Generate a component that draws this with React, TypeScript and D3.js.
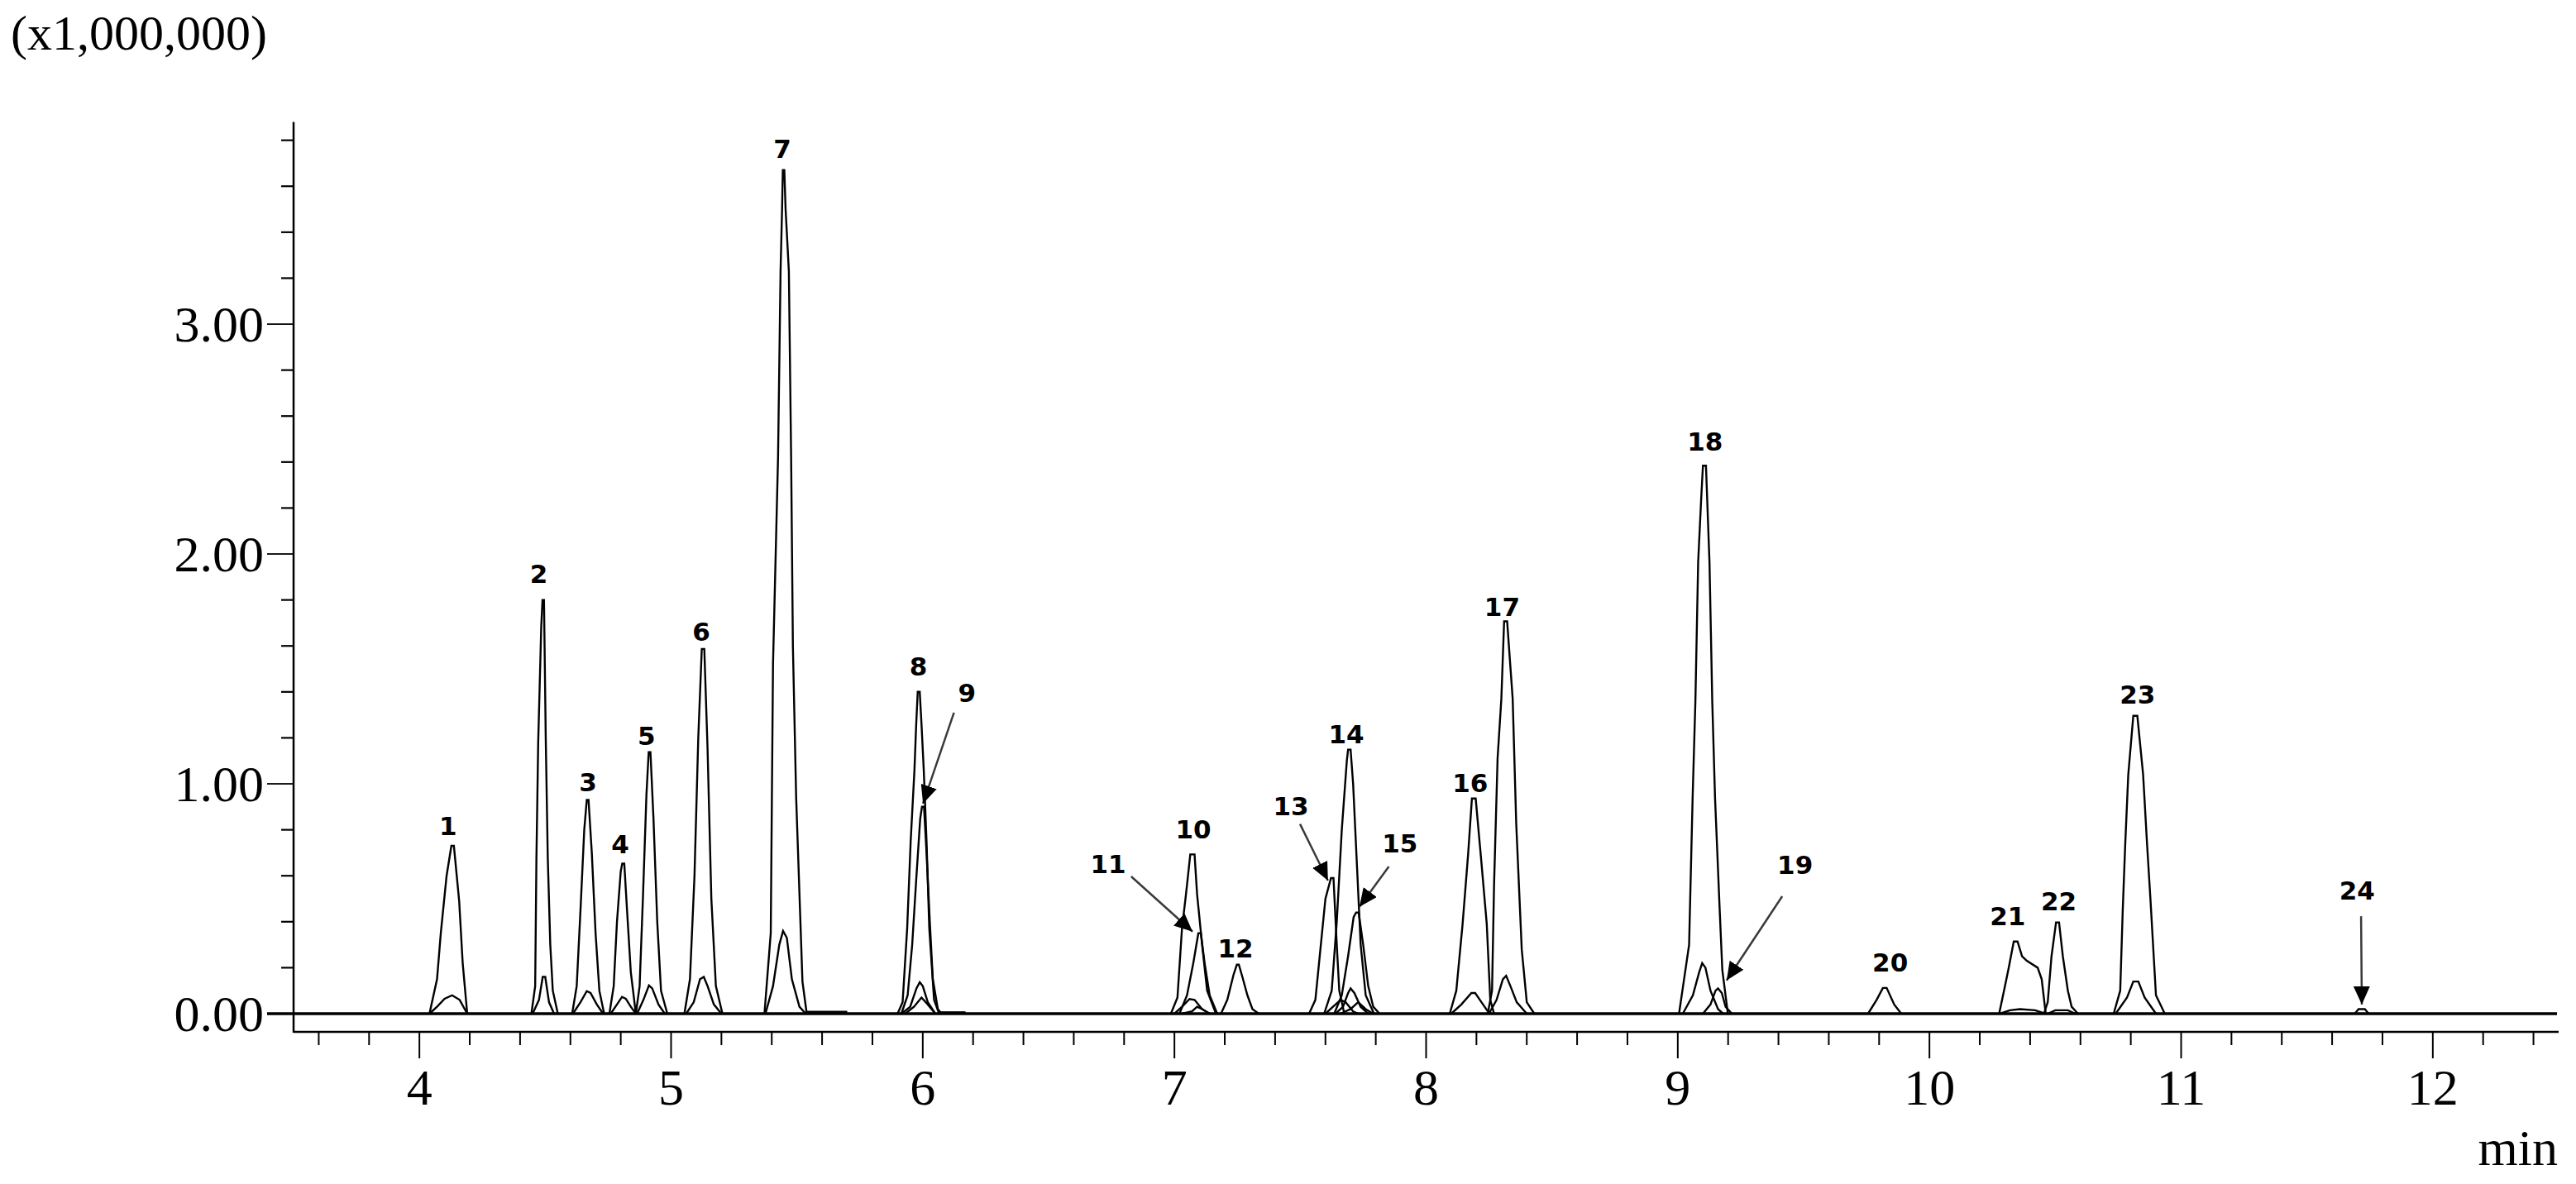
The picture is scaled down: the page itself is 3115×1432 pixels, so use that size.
import React, { useEffect } from 'react';
import * as d3 from 'd3';

type Pt = [number, number];

const WIDTH = 3115;
const HEIGHT = 1432;

// axis values
const X_DOMAIN: [number, number] = [3.5, 12.5];
const Y_DOMAIN: [number, number] = [0, 3.88];
const X_MAJOR_TICKS = [4, 5, 6, 7, 8, 9, 10, 11, 12];
const Y_MAJOR_TICKS = [0, 1, 2, 3];
const Y_TICK_LABELS = ['0.00', '1.00', '2.00', '3.00'];
const Y_UNIT_LABEL = '(x1,000,000)';
const X_UNIT_LABEL = 'min';

// main (quantifier) traces, one per compound: [time (min), intensity (x1,000,000)]
const MAIN_TRACES: Pt[][] = [
  [[4.04,0],[4.07,0.15],[4.085,0.35],[4.108,0.6],[4.127,0.73],[4.137,0.73],[4.158,0.49],[4.172,0.22],[4.19,0]],
  [[4.445,0],[4.46,0.12],[4.465,0.68],[4.472,1.18],[4.484,1.68],[4.489,1.8],[4.495,1.8],[4.502,1.2],[4.51,0.68],[4.52,0.3],[4.53,0.1],[4.55,0]],
  [[4.607,0],[4.625,0.12],[4.64,0.45],[4.655,0.8],[4.665,0.93],[4.672,0.93],[4.685,0.7],[4.7,0.35],[4.715,0.1],[4.734,0]],
  [[4.755,0],[4.772,0.12],[4.785,0.4],[4.8,0.62],[4.806,0.653],[4.814,0.653],[4.825,0.45],[4.84,0.18],[4.86,0]],
  [[4.86,0],[4.875,0.12],[4.888,0.5],[4.902,0.95],[4.911,1.138],[4.918,1.138],[4.93,0.85],[4.945,0.4],[4.96,0.1],[4.985,0]],
  [[5.053,0],[5.075,0.15],[5.093,0.6],[5.108,1.2],[5.122,1.587],[5.132,1.587],[5.145,1.15],[5.16,0.5],[5.178,0.12],[5.204,0]],
  [[5.371,0],[5.396,0.35],[5.405,1.52],[5.425,2.42],[5.435,3.23],[5.441,3.5],[5.444,3.67],[5.45,3.67],[5.455,3.5],[5.468,3.23],[5.477,2.42],[5.484,1.6],[5.497,0.94],[5.522,0.14],[5.539,0]],
  [[5.9,0],[5.92,0.05],[5.938,0.37],[5.952,0.75],[5.967,1.06],[5.974,1.26],[5.98,1.4],[5.988,1.4],[5.995,1.26],[6.004,1.06],[6.015,0.75],[6.026,0.37],[6.045,0.06],[6.065,0]],
  [[5.915,0],[5.94,0.08],[5.958,0.3],[5.975,0.6],[5.99,0.85],[5.997,0.9],[6.005,0.9],[6.015,0.7],[6.028,0.4],[6.04,0.15],[6.06,0.02],[6.075,0]],
  [[6.986,0],[7.012,0.07],[7.03,0.37],[7.046,0.52],[7.063,0.693],[7.08,0.693],[7.09,0.52],[7.11,0.3],[7.13,0.1],[7.165,0]],
  [[7.02,0],[7.05,0.08],[7.075,0.22],[7.095,0.35],[7.105,0.35],[7.12,0.22],[7.14,0.08],[7.17,0]],
  [[7.185,0],[7.21,0.06],[7.235,0.17],[7.248,0.213],[7.256,0.213],[7.27,0.16],[7.29,0.08],[7.31,0.02],[7.335,0]],
  [[7.535,0],[7.56,0.06],[7.58,0.28],[7.6,0.5],[7.622,0.59],[7.632,0.59],[7.645,0.3],[7.655,0.1],[7.675,0]],
  [[7.595,0],[7.625,0.1],[7.645,0.4],[7.665,0.8],[7.685,1.1],[7.69,1.149],[7.7,1.149],[7.71,1.0],[7.725,0.65],[7.74,0.3],[7.76,0.08],[7.793,0]],
  [[7.635,0],[7.665,0.08],[7.69,0.25],[7.712,0.42],[7.722,0.44],[7.732,0.44],[7.75,0.3],[7.77,0.12],[7.79,0.03],[7.815,0]],
  [[8.094,0],[8.12,0.1],[8.145,0.39],[8.167,0.695],[8.182,0.936],[8.197,0.936],[8.218,0.68],[8.241,0.39],[8.255,0.06],[8.27,0]],
  [[8.245,0],[8.262,0.1],[8.27,0.56],[8.284,1.11],[8.299,1.37],[8.31,1.707],[8.322,1.707],[8.344,1.37],[8.358,0.83],[8.38,0.28],[8.4,0.05],[8.43,0]],
  [[9.005,0],[9.045,0.3],[9.059,0.94],[9.07,1.36],[9.081,1.965],[9.093,2.24],[9.1,2.384],[9.112,2.384],[9.126,1.965],[9.137,1.36],[9.148,0.94],[9.167,0.44],[9.177,0.19],[9.199,0]],
  [[9.1,0],[9.13,0.04],[9.15,0.1],[9.16,0.11],[9.175,0.09],[9.19,0.03],[9.215,0]],
  [[9.756,0],[9.79,0.06],[9.815,0.112],[9.83,0.112],[9.86,0.04],[9.888,0]],
  [[10.277,0],[10.3,0.12],[10.315,0.2],[10.335,0.314],[10.35,0.314],[10.368,0.25],[10.387,0.23],[10.43,0.2],[10.446,0.15],[10.462,0]],
  [[10.455,0],[10.47,0.05],[10.485,0.25],[10.503,0.397],[10.515,0.397],[10.53,0.25],[10.55,0.1],[10.565,0.03],[10.59,0]],
  [[10.732,0],[10.758,0.1],[10.768,0.45],[10.778,0.74],[10.79,1.04],[10.81,1.296],[10.826,1.296],[10.849,1.04],[10.864,0.75],[10.878,0.5],[10.9,0.08],[10.935,0]],
  [[11.69,0],[11.705,0.02],[11.73,0.02],[11.745,0]],
];

// small qualifier-ion traces
const QUALIFIER_TRACES: Pt[][] = [
  [[4.04,0],[4.07,0.03],[4.1,0.065],[4.13,0.08],[4.16,0.06],[4.19,0]],
  [[4.45,0],[4.475,0.06],[4.49,0.16],[4.5,0.16],[4.515,0.05],[4.535,0]],
  [[4.61,0],[4.64,0.05],[4.665,0.098],[4.68,0.09],[4.705,0.04],[4.73,0]],
  [[4.76,0],[4.785,0.04],[4.805,0.073],[4.82,0.065],[4.84,0.03],[4.86,0]],
  [[4.865,0],[4.89,0.06],[4.912,0.123],[4.925,0.11],[4.95,0.04],[4.975,0]],
  [[5.06,0],[5.09,0.05],[5.115,0.15],[5.13,0.16],[5.145,0.12],[5.17,0.04],[5.2,0]],
  [[5.375,0],[5.405,0.12],[5.43,0.3],[5.445,0.36],[5.46,0.33],[5.48,0.15],[5.51,0.03],[5.535,0]],
  [[5.54,0.008],[5.7,0.008]],
  [[5.915,0],[5.95,0.03],[5.975,0.11],[5.988,0.137],[6.0,0.12],[6.02,0.05],[6.05,0]],
  [[5.93,0],[5.965,0.03],[5.995,0.07],[6.02,0.04],[6.05,0]],
  [[6.07,0.006],[6.17,0.006]],
  [[7.0,0],[7.03,0.03],[7.06,0.064],[7.08,0.06],[7.11,0.02],[7.14,0]],
  [[7.03,0],[7.07,0.01],[7.09,0.03],[7.11,0.02],[7.14,0]],
  [[7.6,0],[7.63,0.03],[7.66,0.06],[7.68,0.05],[7.71,0.01],[7.73,0]],
  [[7.64,0],[7.67,0.03],[7.69,0.09],[7.7,0.11],[7.715,0.09],[7.74,0.03],[7.77,0]],
  [[7.66,0],[7.7,0.02],[7.73,0.05],[7.76,0.02],[7.79,0]],
  [[8.1,0],[8.14,0.04],[8.18,0.09],[8.195,0.09],[8.22,0.05],[8.245,0.01],[8.26,0]],
  [[8.25,0],[8.28,0.06],[8.305,0.15],[8.318,0.165],[8.335,0.12],[8.36,0.05],[8.4,0]],
  [[9.02,0],[9.06,0.08],[9.085,0.18],[9.097,0.22],[9.11,0.2],[9.13,0.1],[9.16,0.02],[9.18,0]],
  [[10.28,0],[10.32,0.015],[10.36,0.02],[10.42,0.015],[10.46,0]],
  [[10.47,0],[10.5,0.015],[10.55,0.015],[10.58,0]],
  [[10.74,0],[10.785,0.07],[10.81,0.14],[10.83,0.14],[10.855,0.07],[10.9,0]],
];

// peak number labels: [text, time, intensity] (text centre)
const PEAK_LABELS: [string, number, number][] = [
  ['1', 4.114, 0.817], ['2', 4.474, 1.915], ['3', 4.670, 1.006], ['4', 4.798, 0.736],
  ['5', 4.902, 1.208], ['6', 5.120, 1.663], ['7', 5.442, 3.764], ['8', 5.983, 1.511],
  ['9', 6.176, 1.397], ['10', 7.075, 0.802], ['11', 6.737, 0.651], ['12', 7.243, 0.285],
  ['13', 7.463, 0.903], ['14', 7.683, 1.216], ['15', 7.896, 0.741], ['16', 8.175, 1.005],
  ['17', 8.302, 1.770], ['18', 9.108, 2.489], ['19', 9.466, 0.647], ['20', 9.844, 0.223],
  ['21', 10.311, 0.424], ['22', 10.514, 0.489], ['23', 10.827, 1.388], ['24', 11.699, 0.537],
];

// annotation arrows: [fromTime, fromIntensity, tipTime, tipIntensity]
const ARROWS: [number, number, number, number][] = [
  [6.124, 1.31, 6.001, 0.914],
  [6.828, 0.597, 7.072, 0.357],
  [7.499, 0.825, 7.61, 0.579],
  [7.852, 0.64, 7.735, 0.465],
  [9.415, 0.511, 9.194, 0.145],
  [11.715, 0.424, 11.718, 0.04],
];

const PLOT = { left: 355, right: 3094, zeroY: 1226, topY: 147.4, xAxisY: 1248 };

export default function App() {
  useEffect(() => {
    document.body.style.margin = '0';
    document.body.style.overflow = 'hidden';
  }, []);

  const x = d3.scaleLinear().domain(X_DOMAIN).range([PLOT.left, PLOT.right]);
  const y = d3.scaleLinear().domain(Y_DOMAIN).range([PLOT.zeroY, PLOT.topY]);
  const line = d3.line<Pt>().x(d => x(d[0])).y(d => y(d[1]));

  const xMinor = d3.range(3.6, 12.45, 0.2).filter(v => Math.abs(v - Math.round(v)) > 1e-6);
  const yMinor = d3.range(0.2, 3.85, 0.2).filter(v => Math.abs(v - Math.round(v)) > 1e-6);

  const serif = "'Liberation Serif', 'Times New Roman', serif";
  const sans = "'DejaVu Sans', Verdana, sans-serif";

  return (
    <svg width={WIDTH} height={HEIGHT} viewBox={`0 0 ${WIDTH} ${HEIGHT}`}
      style={{ position: 'absolute', left: 0, top: 0, display: 'block', background: '#fff' }}>
      <defs>
        <marker id="ah" markerUnits="userSpaceOnUse" markerWidth={22} markerHeight={20}
          refX={22} refY={10} orient="auto">
          <path d="M0,0 L22,10 L0,20 Z" fill="#000" />
        </marker>
      </defs>
      <rect x={0} y={0} width={WIDTH} height={HEIGHT} fill="#fff" />

      {/* unit label */}
      <text x={13} y={60} fontFamily={serif} fontSize={60} fill="#000">{Y_UNIT_LABEL}</text>

      {/* y axis */}
      <line x1={PLOT.left} x2={PLOT.left} y1={PLOT.topY} y2={PLOT.xAxisY + 1} stroke="#000" strokeWidth={2.5} />
      {yMinor.map(v => (
        <line key={'ym' + v} x1={PLOT.left - 15} x2={PLOT.left} y1={y(v)} y2={y(v)} stroke="#000" strokeWidth={2.2} />
      ))}
      {Y_MAJOR_TICKS.map((v, i) => (
        <g key={'yM' + v}>
          <line x1={PLOT.left - 32} x2={PLOT.left} y1={y(v)} y2={y(v)} stroke="#000" strokeWidth={1.8} />
          <text x={319} y={y(v) + 21} textAnchor="end" fontFamily={serif} fontSize={62} fill="#000">{Y_TICK_LABELS[i]}</text>
        </g>
      ))}

      {/* x axis */}
      <line x1={PLOT.left} x2={PLOT.right} y1={PLOT.xAxisY} y2={PLOT.xAxisY} stroke="#000" strokeWidth={2.5} />
      {xMinor.map(v => (
        <line key={'xm' + v.toFixed(1)} x1={x(v)} x2={x(v)} y1={PLOT.xAxisY} y2={PLOT.xAxisY + 16} stroke="#000" strokeWidth={2} />
      ))}
      {X_MAJOR_TICKS.map(v => (
        <g key={'xM' + v}>
          <line x1={x(v)} x2={x(v)} y1={PLOT.xAxisY} y2={PLOT.xAxisY + 32} stroke="#000" strokeWidth={2} />
          <text x={x(v)} y={1336} textAnchor="middle" fontFamily={serif} fontSize={62} fill="#000">{String(v)}</text>
        </g>
      ))}
      <text x={3093} y={1409} textAnchor="end" fontFamily={serif} fontSize={62} fill="#000">{X_UNIT_LABEL}</text>

      {/* baseline */}
      <line x1={PLOT.left - 32} x2={PLOT.right - 2} y1={y(0)} y2={y(0)} stroke="#000" strokeWidth={3.5} />

      {/* traces */}
      {QUALIFIER_TRACES.map((tr, i) => (
        <path key={'q' + i} d={line(tr) || ''} fill="none" stroke="#000" strokeWidth={2.4} strokeLinejoin="miter" />
      ))}
      {MAIN_TRACES.map((tr, i) => (
        <path key={'m' + i} d={line(tr) || ''} fill="none" stroke="#000" strokeWidth={2.4} strokeLinejoin="miter" />
      ))}

      {/* arrows */}
      {ARROWS.map((a, i) => (
        <line key={'a' + i} x1={x(a[0])} y1={y(a[1])} x2={x(a[2])} y2={y(a[3])}
          stroke="#3a3a3a" strokeWidth={2.5} markerEnd="url(#ah)" />
      ))}

      {/* peak labels */}
      {PEAK_LABELS.map(([t, tm, v]) => (
        <text key={'l' + t} x={x(tm)} y={y(v)} textAnchor="middle" dominantBaseline="central"
          fontFamily={sans} fontWeight="bold" fontSize={31} fill="#000">{t}</text>
      ))}
    </svg>
  );
}
